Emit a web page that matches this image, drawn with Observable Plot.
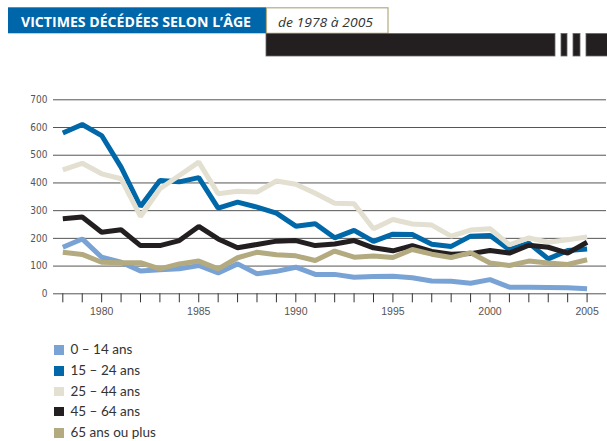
<!DOCTYPE html>
<html><head><meta charset="utf-8">
<script src="https://cdn.jsdelivr.net/npm/d3@7"></script>
<script src="https://cdn.jsdelivr.net/npm/@observablehq/plot@0.6"></script>
<style>
body{margin:0;background:#fff;}
#wrap{position:relative;width:607px;height:441px;overflow:hidden;}
#head{position:absolute;left:0;top:0;}
#chart{position:absolute;left:0;top:60px;}
#legend{position:absolute;left:0;top:0;width:607px;height:441px;pointer-events:none;}
.lg{position:absolute;left:54px;font-family:Lato,"Liberation Sans",sans-serif;font-size:13.5px;color:#333;white-space:nowrap;}
.lg span{display:inline-block;width:9.5px;height:9.5px;vertical-align:middle;margin-right:7px;position:relative;top:-1px;}
</style></head>
<body><div id="wrap">
<svg id="head" width="607" height="60">
  <rect x="8" y="7.3" width="258" height="26" fill="#0066aa"/>
  <text x="21" y="26.5" fill="#fff" font-family="'Open Sans','Liberation Sans',sans-serif" font-weight="bold" font-size="14" textLength="230" lengthAdjust="spacingAndGlyphs">VICTIMES DÉCÉDÉES SELON L’ÂGE</text>
  <rect x="266.5" y="7.8" width="121.5" height="25.5" fill="#fff" stroke="#b5ab80" stroke-width="1.2"/>
  <text x="278" y="26.5" fill="#333" font-family="'Open Sans','Liberation Sans',sans-serif" font-style="italic" font-size="13.5" textLength="95" lengthAdjust="spacingAndGlyphs">de 1978 à 2005</text>
  <rect x="266" y="33.5" width="289" height="22.5" fill="#231f20" stroke="#666" stroke-width="0.8"/>
  <rect x="561" y="33.5" width="6" height="22.5" fill="#231f20" stroke="#666" stroke-width="0.8"/>
  <rect x="573" y="33.5" width="7" height="22.5" fill="#231f20" stroke="#666" stroke-width="0.8"/>
  <rect x="586" y="33.5" width="22" height="22.5" fill="#231f20" stroke="#666" stroke-width="0.8"/>
</svg>
<div id="chart"></div>
<div id="legend"></div>
</div>
<script>
const years = [1978,1979,1980,1981,1982,1983,1984,1985,1986,1987,1988,1989,1990,1991,1992,1993,1994,1995,1996,1997,1998,1999,2000,2001,2002,2003,2004,2005];
const yTicks = [0,100,200,300,400,500,600,700];
const xLabels = [1980,1985,1990,1995,2000,2005];
const seriesNames = ["0 – 14 ans","15 – 24 ans","25 – 44 ans","45 – 64 ans","65 ans ou plus"];
const seriesColors = ["#7aa3d5","#0068a9","#e3e0d1","#231f20","#b3aa80"];
const v0_14  = [168,198,132,114,82,87,90,102,75,108,72,81,96,70,70,60,62,63,58,46,45,38,51,24,24,23,22,18];
const v15_24 = [580,611,571,457,315,409,404,419,309,331,313,291,244,253,202,229,189,215,214,179,171,208,210,159,183,126,156,162];
const v25_44 = [447,471,433,415,279,379,427,475,361,370,367,407,395,363,327,325,235,268,252,248,208,230,235,177,202,186,195,205];
const v45_64 = [271,277,222,231,174,174,192,243,198,166,178,190,192,174,180,192,166,155,174,153,143,145,156,147,175,168,147,186];
const v65    = [150,142,114,112,112,90,108,118,90,130,150,141,137,120,154,132,136,131,160,143,131,148,111,102,118,111,106,123];

const allSeries = [v0_14, v15_24, v25_44, v45_64, v65];
const data = [];
allSeries.forEach((vals, si) => vals.forEach((v, i) => data.push({year: years[i], value: v, series: seriesNames[si]})));

const chart = Plot.plot({
  width: 607,
  height: 270,
  marginLeft: 53,
  marginRight: 1,
  marginTop: 39.3,
  marginBottom: 36.7,
  style: {background: "transparent", overflow: "visible"},
  x: {type: "linear", domain: [1977.52, 2006.0]},
  y: {domain: [0, 700]},
  color: {domain: seriesNames, range: seriesColors},
  marks: [
    Plot.ruleY(yTicks, {stroke: "#555", strokeWidth: 1}),
    Plot.axisY({ticks: yTicks, tickSize: 0, tickPadding: 6, fontSize: 10, fill: "#555", fontFamily: "'Liberation Sans Narrow','DejaVu Sans Condensed',sans-serif", label: null}),
    Plot.axisX({ticks: years, tickSize: 9, tickPadding: 5, stroke: "#333", fontSize: 10.5, fill: "#555", fontFamily: "'Liberation Sans',sans-serif", tickFormat: d => xLabels.includes(d) ? String(d) : "", label: null}),
    Plot.line(data, {x: "year", y: "value", z: "series", stroke: "series", strokeWidth: 5, strokeLinejoin: "miter", strokeLinecap: "butt"})
  ]
});
document.getElementById("chart").appendChild(chart);

const legendTops = [350.3, 371.3, 391.7, 412, 433.3];
const lg = document.getElementById("legend");
seriesNames.forEach((n, i) => {
  const d = document.createElement("div");
  d.className = "lg";
  d.style.top = (legendTops[i] - 9) + "px";
  d.innerHTML = `<span style="background:${seriesColors[i]}"></span>${n}`;
  lg.appendChild(d);
});
</script>
</body></html>
